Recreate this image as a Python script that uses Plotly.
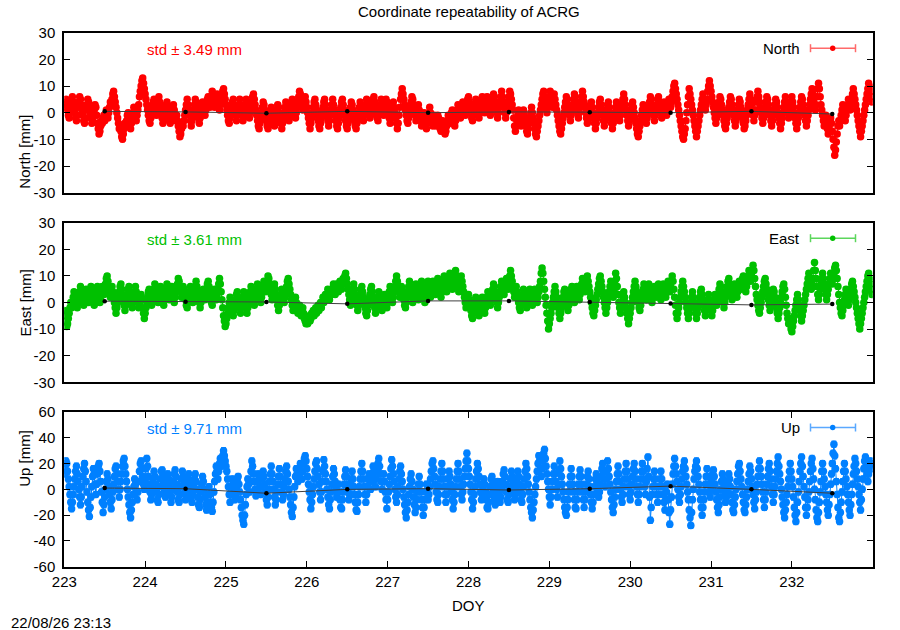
import plotly.graph_objects as go

# ---------------- data (mm) ----------------
START_DOY = 223.0
STEP_DAY = 0.01

north_mm = [
    # 223
    2, 4, 5, 3, 1, -1, -2, 0, 3, 5, 6, 4, 2, 0, -2, -3, -1, 2, 4, 6,
    5, 3, 1, -1, -3, -4, -2, 1, 3, 5, 4, 2, 0, -2, -4, -3, -1, 1, 3, 2,
    -1, -4, -6, -8, -7, -5, -3, -4, -2, -1, -3, -1, 1, 0, -2, 0, 2, 4, 3, 5,
    7, 8, 6, 4, 2, 0, -2, -4, -6, -5, -7, -9, -10, -8, -6, -4, -5, -3, -1, 0,
    -2, -4, -6, -4, -2, 0, 2, 1, -1, -3, -1, 1, 3, 6, 8, 10, 12, 13, 11, 9,
    # 224
    7, 5, 3, 1, -1, -3, -4, -2, 0, 2, 4, 5, 3, 1, -1, 2, 4, 6, 4, 2,
    0, -2, -4, -3, -1, 1, 3, 4, 2, 0, -2, -4, -2, 0, 2, 3, 1, -1, -3, -1,
    -3, -5, -7, -9, -8, -6, -4, -5, -3, -1, 1, 3, 5, 3, 1, -1, -3, -5, -3, -1,
    1, 3, 5, 4, 2, 0, -2, -4, -2, 0, 2, 4, 3, 1, -1, 1, 3, 5, 6, 4,
    2, 4, 6, 8, 6, 4, 2, 3, 5, 7, 5, 3, 1, 3, 5, 7, 8, 9, 7, 5,
    # 225
    3, 1, -1, -3, -4, -2, 0, 2, 4, 5, 3, 1, -1, -3, -1, 1, 3, 5, 3, 1,
    -1, -3, -1, 1, 3, 5, 4, 2, 0, -2, 0, 2, 4, 6, 7, 5, 3, 1, -1, -3,
    -5, -6, -4, -2, 0, 2, 4, 3, 1, -1, -3, -5, -6, -4, -2, 0, 2, 1, -1, -3,
    -5, -3, -1, 1, 3, 2, 0, -2, -4, -6, -4, -2, 0, 2, 4, 3, 1, -1, -3, -1,
    1, 3, 5, 4, 2, 0, -2, 0, 2, 4, 6, 8, 7, 5, 3, 1, 3, 5, 6, 4,
    # 226
    2, 0, -2, -4, -6, -4, -2, 0, 2, 4, 5, 3, 1, -1, -3, -5, -6, -4, -2, 0,
    2, 4, 5, 3, 1, -1, -3, -5, -3, -1, 1, 3, 5, 3, 1, -1, -3, -5, -6, -4,
    -2, 0, 2, 4, 5, 3, 1, -1, -3, -5, -6, -4, -2, 0, 2, 4, 3, 1, -1, -3,
    -5, -6, -4, -2, 0, 2, 4, 2, 0, -2, -3, -1, 1, 3, 5, 4, 2, 0, -2, -1,
    1, 3, 5, 6, 4, 2, 0, -2, -3, -1, 1, 3, 5, 3, 1, -1, 1, 3, 5, 4,
    # 227
    2, 0, -2, -4, -2, 0, 2, 4, 2, 0, -2, -4, -6, -4, -1, 2, 5, 7, 9, 7,
    5, 3, 1, -1, -3, -4, -2, 0, 2, 4, 6, 5, 3, 1, -1, -3, -1, 1, 3, 1,
    -1, -3, -5, -3, -1, 0, -2, -4, -6, -4, -2, 0, 2, 0, -2, -4, -5, -3, -1, -3,
    -5, -3, -1, -2, -4, -6, -7, -5, -3, -4, -6, -8, -7, -5, -3, -1, -2, -4, -2, 0,
    1, -1, -3, -5, -3, -1, 1, 3, 2, 0, -2, 0, 2, 4, 3, 1, -1, 1, 3, 5,
    # 228
    6, 4, 2, 0, -2, -3, -1, 1, 3, 5, 4, 2, 0, -2, 0, 2, 4, 6, 4, 2,
    0, 2, 4, 6, 5, 3, 1, -1, 1, 3, 5, 7, 6, 4, 2, 0, -2, 0, 2, 4,
    6, 8, 6, 4, 2, 0, -2, 0, 2, 4, 6, 8, 7, 5, 3, 1, -2, -5, -7, -5,
    -3, -1, 1, -1, -3, -5, -3, -1, 1, -1, -3, -5, -7, -8, -6, -4, -2, 0, 2, 0,
    -2, -4, -6, -8, -9, -7, -5, -3, -1, 1, 3, 5, 7, 8, 6, 4, 2, 0, 2, 4,
    # 229
    6, 8, 6, 4, 2, 5, 7, 5, 3, 1, -1, -3, -5, -7, -8, -6, -4, -2, 0, 2,
    4, 6, 5, 3, 1, -1, -3, -1, 1, 3, 5, 7, 6, 4, 2, 0, -2, 0, 2, 4,
    6, 8, 6, 4, 2, 0, -2, -4, -3, -1, 1, 3, 4, 2, 0, -2, -4, -6, -4, -2,
    0, 2, 4, 5, 3, 1, -1, -3, -5, -3, -1, 1, 3, 4, 2, 0, -2, -4, -6, -4,
    -2, 0, 2, 4, 3, 1, -1, -3, -1, 1, 3, 5, 7, 5, 3, 1, -1, -3, -5, -3,
    # 230
    -1, 1, 3, 4, 2, 0, -2, -4, -6, -8, -9, -7, -5, -3, -1, 1, 3, 2, 0, -2,
    -4, -2, 0, 2, 4, 6, 5, 3, 1, -1, -3, -1, 1, 3, 5, 6, 4, 2, 0, -2,
    0, 2, 4, 3, 1, -1, 1, 3, 5, 4, 2, 4, 6, 8, 10, 11, 9, 7, 5, 3,
    1, -1, -3, -5, -7, -9, -10, -8, -6, -3, 0, 3, 6, 9, 7, 5, 3, 1, -1, -3,
    -5, -7, -9, -7, -5, -3, -1, 1, 3, 5, 7, 5, 3, 1, 3, 5, 8, 10, 12, 10,
    # 231
    8, 6, 4, 2, 0, -2, -4, -2, 0, 2, 4, 6, 5, 3, 1, -1, -3, -5, -6, -4,
    -2, 0, 2, 4, 6, 5, 3, 1, -1, -3, -5, -3, -1, 1, 3, 5, 4, 2, 0, -2,
    -4, -6, -5, -3, -1, 1, 3, 5, 7, 5, 3, 1, -1, -3, -1, 1, 4, 6, 8, 6,
    4, 2, 0, -2, -4, -2, 0, 2, 4, 6, 5, 3, 1, -1, -3, -5, -3, -1, 1, 3,
    5, 4, 2, 0, -2, -4, -6, -4, -2, 0, 2, 4, 6, 4, 2, 0, -2, 0, 2, 4,
    # 232
    6, 4, 2, 0, -2, -4, -6, -4, -2, 0, 2, 4, 6, 5, 3, 1, -1, -3, -5, -3,
    -1, 1, 3, 5, 7, 9, 7, 5, 3, 1, 3, 6, 9, 11, 9, 6, 3, 1, -1, -3,
    -5, -3, -1, -3, -6, -8, -6, -4, -2, -4, -7, -10, -13, -16, -14, -11, -8, -5, -3, -5,
    -3, -1, 1, 3, 1, -1, -3, -1, 1, 3, 5, 3, 1, 3, 5, 7, 9, 7, 5, 3,
    1, -1, -3, -5, -7, -9, -7, -5, -3, -1, 1, 3, 5, 7, 9, 11, 10, 8, 6, 4,
]

east_mm = [
    # 223
    -3, -5, -7, -9, -8, -6, -4, -2, 0, -2, 0, 2, 4, 3, 1, -1, -2, 0, 2, 4,
    6, 5, 3, 1, -1, 1, 3, 5, 4, 2, 0, 2, 4, 6, 5, 3, 1, -1, 1, 3,
    5, 6, 4, 2, 0, 2, 4, 6, 5, 3, 5, 7, 9, 10, 8, 6, 4, 2, 4, 6,
    4, 2, 0, -2, -4, -2, 0, 2, 4, 6, 7, 5, 3, 1, -1, -3, -1, 1, 3, 5,
    6, 4, 2, 0, -2, 0, 2, 4, 6, 4, 2, 0, -2, -1, 1, 3, 1, -2, -4, -6,
    # 224
    -4, -2, 0, 2, 4, 5, 3, 1, -1, 1, 3, 5, 7, 6, 4, 2, 0, 2, 4, 6,
    5, 3, 1, -1, 1, 3, 5, 7, 5, 3, 1, 3, 5, 6, 4, 2, 0, 2, 4, 6,
    7, 9, 8, 6, 4, 2, 4, 6, 5, 3, 1, -1, -2, 0, 2, 4, 6, 4, 2, 0,
    2, 4, 6, 8, 6, 4, 2, 0, -2, 0, 2, 4, 5, 3, 1, 3, 5, 7, 8, 6,
    4, 2, 0, -1, 1, 3, 5, 3, 1, 3, 5, 7, 9, 7, 4, 1, -2, -5, -7, -9,
    # 225
    -8, -6, -4, -2, 0, 2, 0, -2, -4, -5, -3, -1, 1, 3, 4, 2, 0, -2, -4, -2,
    0, 2, 4, 2, 0, -2, -4, -2, 0, 2, 4, 6, 5, 3, 1, -1, 1, 3, 5, 7,
    6, 4, 2, 0, 2, 4, 6, 8, 6, 4, 6, 8, 10, 9, 7, 5, 3, 1, 3, 5,
    7, 5, 3, 1, -1, -3, -1, 1, 3, 5, 4, 2, 0, 2, 4, 6, 8, 9, 7, 5,
    3, 1, -1, -3, -2, 0, 2, 0, -2, -4, -3, -1, -3, -5, -4, -2, -4, -6, -7, -8,
    # 226
    -6, -8, -7, -5, -7, -6, -4, -5, -3, -5, -4, -2, -4, -3, -1, -3, -2, 0, -2, 0,
    2, 0, 1, 3, 1, 3, 5, 3, 1, 3, 5, 3, 5, 7, 5, 3, 5, 7, 6, 4,
    6, 8, 7, 5, 7, 9, 8, 10, 11, 9, 7, 5, 3, 1, -1, 1, 3, 5, 7, 5,
    3, 1, -1, -3, -1, 1, 3, 5, 6, 4, 2, 0, -2, -4, -5, -3, -1, 1, 3, 5,
    6, 4, 2, 0, -2, -4, -2, 0, 2, 4, 3, 1, -1, -3, -1, 1, 3, 2, 0, -2,
    # 227
    0, 2, 4, 6, 4, 2, 0, 2, 4, 6, 8, 10, 8, 6, 4, 2, 4, 6, 5, 3,
    1, -1, -2, 0, 2, 4, 6, 8, 6, 4, 2, 0, 2, 4, 6, 7, 5, 3, 1, 3,
    5, 7, 8, 6, 4, 2, 0, 2, 4, 6, 8, 6, 4, 2, 4, 6, 8, 7, 5, 3,
    5, 7, 9, 8, 6, 4, 2, 4, 6, 8, 10, 8, 6, 4, 6, 8, 10, 11, 9, 7,
    5, 7, 9, 11, 12, 10, 8, 6, 4, 6, 8, 10, 8, 6, 4, 2, 0, -2, 0, 2,
    # 228
    3, 1, -1, -3, -5, -6, -4, -2, 0, 2, 1, -1, -3, -5, -4, -2, 0, 2, 0, -2,
    -4, -2, 0, 2, 4, 3, 1, -1, 1, 3, 5, 7, 6, 4, 2, 0, -2, 0, 2, 4,
    6, 8, 7, 5, 3, 5, 7, 9, 7, 5, 8, 10, 12, 10, 8, 6, 4, 2, 4, 6,
    4, 2, 0, -2, -3, -1, 1, 3, 5, 4, 2, 0, -2, 0, 2, 4, 5, 3, 1, -1,
    1, 3, 5, 4, 2, 0, 2, 4, 6, 8, 11, 13, 11, 8, 5, 2, -1, -4, -7, -10,
    # 229
    -8, -6, -4, -2, 0, 2, 4, 6, 4, 2, 0, -2, -4, -6, -4, -2, 0, 2, 4, 5,
    3, 1, -1, -3, -1, 1, 3, 5, 6, 4, 2, 0, 2, 4, 6, 5, 3, 1, 3, 5,
    7, 9, 8, 6, 4, 6, 8, 10, 8, 6, 4, 2, 0, -2, -4, -5, -3, -1, 1, 3,
    5, 7, 9, 10, 8, 6, 4, 2, 0, -2, -4, -2, 0, 2, 4, 6, 8, 6, 4, 2,
    5, 8, 11, 9, 6, 3, 0, -2, -4, -2, 0, 2, 4, 2, 0, -2, -4, -6, -8, -6,
    # 230
    -4, -2, 0, 2, 4, 6, 8, 6, 4, 2, 0, -2, -3, -1, 1, 3, 5, 7, 5, 3,
    1, 3, 5, 7, 6, 4, 2, 0, 2, 4, 6, 4, 2, 4, 6, 7, 5, 3, 1, 3,
    5, 7, 6, 4, 2, 4, 6, 8, 6, 4, 6, 8, 10, 8, 5, 2, -1, -4, -6, -4,
    -2, 0, 2, 4, 6, 8, 6, 4, 2, 0, -2, -4, -6, -4, -2, 0, 2, 4, 2, 0,
    -2, -4, -6, -4, -2, 0, 2, 4, 5, 3, 1, -1, -3, -5, -3, -1, 1, 3, 1, -1,
    # 231
    -3, -5, -3, -1, 1, 3, 1, -1, 1, 3, 5, 7, 6, 4, 2, 0, -2, 0, 2, 4,
    6, 8, 9, 7, 5, 3, 1, 3, 5, 7, 6, 4, 2, 4, 6, 8, 7, 5, 7, 9,
    10, 8, 6, 4, 6, 8, 10, 12, 10, 8, 10, 12, 14, 12, 9, 6, 3, 1, -1, -3,
    -4, -2, 0, 2, 4, 6, 8, 9, 7, 5, 3, 1, -1, -3, -1, 1, 3, 5, 4, 2,
    0, -2, -4, -6, -4, -2, 0, 2, 4, 6, 7, 5, 2, -1, -4, -6, -8, -6, -8, -10,
    # 232
    -11, -9, -7, -5, -3, -1, 1, 3, 1, -1, -3, -5, -7, -5, -3, -1, 1, 3, 5, 7,
    9, 11, 9, 7, 5, 7, 9, 12, 15, 12, 9, 6, 3, 1, 3, 5, 7, 9, 11, 9,
    7, 5, 3, 1, 3, 5, 7, 9, 11, 9, 7, 9, 11, 13, 14, 12, 9, 6, 3, 0,
    -2, -4, -5, -3, -1, 1, 3, 5, 3, 1, -1, 1, 3, 5, 7, 8, 6, 4, 2, 0,
    -2, -4, -6, -8, -10, -8, -6, -4, -2, 0, 2, 4, 6, 8, 10, 11, 9, 7, 5, 3,
]

up_mm = [
    # 223
    12, 18, 22, 20, 14, 8, 2, -4, -10, -15, -10, -4, 2, 8, 14, 18, 12, 6, 0, -6,
    -12, -6, 2, 10, 16, 20, 14, 6, -2, -10, -16, -21, -14, -6, 2, 10, 16, 12, 4, -4,
    4, 12, 18, 20, 14, 6, -2, -10, -18, -12, -6, 0, 6, 12, 8, 2, -4, -10, -15, -8,
    -2, 4, 10, 16, 18, 12, 6, 0, -6, 0, 6, 12, 18, 22, 24, 18, 12, 6, 0, -6,
    -12, -18, -22, -16, -10, -4, 2, 8, 4, -2, -8, -2, 6, 14, 20, 22, 16, 10, 4, 0,
    # 224
    8, 16, 24, 18, 10, 4, -2, -8, -4, 2, 8, 14, 10, 4, -2, -8, -10, -4, 2, 8,
    14, 15, 10, 4, -2, -6, 0, 6, 12, 8, 2, -4, -10, -6, 0, 6, 12, 15, 10, 4,
    -2, -8, -10, -4, 2, 8, 14, 10, 4, -2, -8, -4, 2, 8, 12, 6, 0, -6, -10, -4,
    2, 8, 12, 6, 0, -6, -12, -14, -8, -2, 4, 10, 6, 0, -6, -12, -16, -10, -4, 2,
    -4, -10, -14, -17, -10, -2, 6, 12, 18, 14, 8, 14, 20, 24, 18, 22, 26, 30, 26, 22,
    # 225
    18, 14, 8, 2, -4, -10, -4, 2, 8, 4, -2, -8, -4, 2, 8, 10, 4, -2, -8, -14,
    -20, -24, -27, -20, -12, -4, 2, 8, 4, -2, 6, 14, 22, 18, 12, 6, 0, -5, 0, 6,
    12, 8, 2, -4, 2, 8, 14, 10, 4, -2, -8, -12, -6, 0, 6, 12, 18, 12, 6, 0,
    -6, -12, -8, -2, 4, 10, 16, 10, 4, -2, -8, -4, 2, 8, 14, 18, 12, 6, 0, -6,
    -12, -18, -21, -14, -6, 2, 10, 16, 12, 6, 10, 16, 20, 14, 8, 14, 20, 24, 26, 22,
    # 226
    16, 10, 4, -2, -8, -15, -10, -4, 2, 8, 14, 20, 22, 16, 10, 4, -2, -8, -2, 6,
    14, 23, 18, 12, 6, 0, -6, -12, -15, -8, -2, 4, 10, 16, 12, 6, 0, -6, -2, 4,
    -2, -8, -14, -15, -8, -2, 4, 10, 15, 10, 4, -2, -8, -4, 2, 8, 14, 8, 2, -4,
    -10, -16, -17, -10, -4, 2, 8, 14, 20, 14, 8, 2, -4, -10, -4, 2, 8, 12, 6, 0,
    6, 12, 18, 14, 8, 2, 8, 14, 20, 24, 18, 12, 6, 0, 6, 12, 6, -2, -8, -15,
    # 227
    -8, -2, 4, 10, 16, 23, 18, 12, 6, 0, -6, -10, -4, 2, 8, 14, 18, 12, 6, 0,
    -6, -12, -18, -22, -16, -10, -4, 2, 8, 12, 6, 0, -6, -12, -18, -14, -8, -2, 4, 10,
    4, -2, -8, -14, -20, -14, -8, -2, 4, -2, -8, -4, 2, 8, 14, 20, 22, 16, 10, 4,
    -2, -8, -10, -4, 2, 8, 14, 20, 14, 8, 2, -4, -10, -4, 2, 8, 14, 10, 4, -2,
    -8, -15, -10, -4, 2, 8, 14, 20, 14, 8, 2, -4, -8, -2, 4, 10, 16, 22, 28, 22,
    # 228
    16, 10, 4, -2, -8, -15, -10, -4, 2, 8, 14, 20, 16, 10, 4, -2, -8, -4, 2, 8,
    4, -2, -8, -14, -15, -10, -4, 2, 8, 10, 4, -2, -8, -12, -6, 0, 6, 2, -4, -10,
    -6, 0, 6, 12, 15, 10, 4, -2, -8, -10, -4, 2, 8, 14, 10, 4, -2, -8, -4, 2,
    8, 14, 10, 4, -2, -8, -10, -4, 2, 8, 14, 20, 16, 10, 4, -2, -8, -14, -18, -22,
    -16, -10, -4, 2, 8, 14, 20, 26, 22, 16, 10, 16, 22, 28, 31, 24, 18, 12, 6, 0,
    # 229
    -6, -12, -6, 0, 6, 12, 18, 12, 6, 0, -6, 4, 14, 22, 16, 10, 4, -2, -8, -14,
    -18, -20, -14, -8, -2, 4, 10, 16, 10, 4, -2, -8, -14, -15, -8, -2, 4, 10, 15, 10,
    4, -2, -8, -14, -8, -2, 4, 10, 14, 8, 2, -4, -10, -15, -10, -4, 2, 8, 12, 6,
    0, -6, -2, 4, 10, 16, 20, 14, 8, 2, 8, 14, 22, 16, 10, 4, -2, -8, -14, -18,
    -12, -6, 0, 6, 12, 18, 12, 6, 0, -6, -10, -4, 2, 8, 14, 20, 14, 8, 2, -4,
    # 230
    -8, -2, 4, 10, 16, 20, 14, 8, 2, -4, -10, -4, 2, 8, 14, 20, 14, 8, 2, -4,
    6, 16, 25, 10, -6, -24, -14, -4, 2, 8, 14, 8, 2, -4, -10, -4, 2, 8, 14, 8,
    2, -4, -10, -16, -8, -2, 4, -8, -18, -27, -16, -6, 4, 12, 18, 24, 18, 12, 6, 0,
    -6, -10, -4, 2, 8, 14, 18, 22, 16, 10, 4, -2, -8, -16, -22, -28, -18, -8, 0, 8,
    14, 18, 22, 16, 10, 4, -2, -8, -14, -20, -14, -8, -2, 4, 10, 16, 10, 4, -2, -6,
    # 231
    0, 6, 12, 15, 10, 4, -2, -8, -14, -18, -12, -6, 0, 6, 12, 8, 2, -4, -10, -6,
    0, 6, 12, 8, 2, -4, -10, -16, -18, -12, -6, 0, 6, 12, 18, 20, 14, 8, 2, -4,
    -10, -16, -18, -12, -6, 0, 6, 12, 18, 14, 8, 2, -4, -10, -15, -8, -2, 4, 10, 16,
    22, 16, 10, 4, -2, -8, -14, -8, -2, 4, 10, 16, 20, 14, 8, 2, -4, -10, -4, 2,
    8, 14, 20, 25, 18, 12, 6, 0, -6, -12, -18, -22, -16, -10, -4, 2, 8, 14, 20, 14,
    # 232
    8, 2, -6, -14, -20, -25, -18, -10, -2, 6, 14, 20, 25, 18, 10, 2, -6, -14, -20, -14,
    -8, -2, 6, 14, 20, 24, 16, 8, 0, -8, -16, -22, -25, -18, -10, -2, 6, 14, 20, 14,
    8, 2, -4, -10, -16, -20, -12, -4, 4, 12, 20, 28, 35, 26, 16, 6, -4, -14, -22, -25,
    -18, -10, -2, 6, 14, 20, 14, 8, 2, -4, -10, -16, -20, -12, -4, 4, 12, 18, 24, 20,
    14, 8, 2, -4, -10, -16, -8, 0, 8, 16, 22, 25, 18, 12, 6, 12, 18, 22, 20, 16,
]

daily_doy = [223.5, 224.5, 225.5, 226.5, 227.5, 228.5, 229.5, 230.5, 231.5, 232.5]
daily_north = [0.5, 0.3, -0.2, 0.5, 0.0, 0.3, 0.2, 0.0, 0.5, -0.5]
daily_east = [0.5, 0.3, 0.2, -0.5, 0.6, 0.6, 0.2, -0.4, -0.9, -0.6]
daily_up = [1.0, 0.5, -3.0, 0.0, 0.5, -0.5, 0.5, 2.5, 0.0, -3.0]

component_names = ["North", "East", "Up"]
std_values = [3.49, 3.61, 9.71]
x_tick_values = [223, 224, 225, 226, 227, 228, 229, 230, 231, 232]
y_ticks_ne = [-30, -20, -10, 0, 10, 20, 30]
y_ticks_up = [-60, -40, -20, 0, 20, 40, 60]

# ---------------- style ----------------
W, H = 900, 630
FONT = "Liberation Sans, Arial, Helvetica, sans-serif"
FS = 15
colors = ["#ff0000", "#00c000", "#0080ff"]
legend_colors = ["#ff6a6a", "#5cd65c", "#5aa8ff"]
errbar = [0.9, 0.9, 2.4]

X0_PX, X1_PX = 64.3, 872.7
panels_px = [(32.7, 192.7), (222.7, 382.3), (412.0, 566.7)]


def px(x):
    return x / W


def py(y):
    return 1 - y / H


series = [north_mm, east_mm, up_mm]
dailies = [daily_north, daily_east, daily_up]
yticks = [y_ticks_ne, y_ticks_ne, y_ticks_up]

fig = go.Figure()
layout = dict(
    width=W, height=H, autosize=False, paper_bgcolor="white", plot_bgcolor="white",
    margin=dict(l=0, r=0, t=0, b=0, pad=0), showlegend=False,
    font=dict(family=FONT, size=FS, color="black"),
)
shapes = []
annotations = []

for k in range(3):
    sfx = "" if k == 0 else str(k + 1)
    xa, ya = "x" + sfx, "y" + sfx
    doy = [START_DOY + STEP_DAY * i for i in range(len(series[k]))]
    fig.add_trace(go.Scatter(
        x=doy, y=series[k], xaxis=xa, yaxis=ya, mode="lines+markers",
        line=dict(color=colors[k], width=1),
        marker=dict(symbol="circle", size=7.5, color=colors[k]),
        error_y=dict(type="constant", value=errbar[k], width=2.5, thickness=1, color=colors[k]),
        name=component_names[k], hoverinfo="skip",
    ))
    fig.add_trace(go.Scatter(
        x=daily_doy, y=dailies[k], xaxis=xa, yaxis=ya, mode="lines+markers",
        line=dict(color="#404040", width=1),
        marker=dict(symbol="circle", size=4.5, color="black"),
        name="daily", hoverinfo="skip",
    ))
    top, bot = panels_px[k]
    bottom_panel = (k == 2)
    layout["xaxis" + sfx] = dict(
        domain=[px(X0_PX), px(X1_PX)], range=[223, 233], anchor=ya, automargin=False,
        tickvals=x_tick_values, ticktext=[str(v) for v in x_tick_values],
        showticklabels=bottom_panel, ticks="inside" if bottom_panel else "",
        ticklen=6, tickwidth=1, tickcolor="black",
        showline=True, linecolor="black", linewidth=2,
        mirror="ticks" if bottom_panel else True,
        showgrid=False, zeroline=False,
        tickfont=dict(family=FONT, size=FS, color="black"),
    )
    layout["yaxis" + sfx] = dict(
        domain=[py(bot), py(top)], range=[yticks[k][0], yticks[k][-1]], anchor=xa,
        automargin=False,
        tickvals=yticks[k], ticktext=[str(v) for v in yticks[k]],
        ticks="inside", ticklen=6, tickwidth=1, tickcolor="black",
        showline=True, linecolor="black", linewidth=2, mirror="ticks",
        showgrid=False, zeroline=False, ticklabelstandoff=4,
        tickfont=dict(family=FONT, size=FS, color="black"),
    )
    annotations.append(dict(
        text=f"{component_names[k]} [mm]", x=px(14.5), y=py((top + bot) / 2),
        xref="paper", yref="paper", textangle=-90, showarrow=False,
        font=dict(family=FONT, size=FS, color="black"),
    ))
    annotations.append(dict(
        text=f"std \u00b1 {std_values[k]:.2f} mm", x=px(145), y=py(top + 16.5),
        xref="paper", yref="paper", xanchor="left", yanchor="middle", showarrow=False,
        font=dict(family=FONT, size=FS, color=colors[k]),
    ))
    ly = top + 15.5
    annotations.append(dict(
        text=component_names[k], x=px(802), y=py(ly), xref="paper", yref="paper",
        xanchor="right", yanchor="middle", showarrow=False,
        font=dict(family=FONT, size=FS, color="black"),
    ))
    lc = legend_colors[k]
    shapes.append(dict(type="line", xref="paper", yref="paper",
                       x0=px(810.5), x1=px(855.5), y0=py(ly), y1=py(ly),
                       line=dict(color=lc, width=1.5)))
    for cx in (810.5, 855.5):
        shapes.append(dict(type="line", xref="paper", yref="paper",
                           x0=px(cx), x1=px(cx), y0=py(ly - 4), y1=py(ly + 4),
                           line=dict(color=lc, width=1.5)))
    shapes.append(dict(type="circle", xref="paper", yref="paper",
                       xsizemode="pixel", ysizemode="pixel",
                       xanchor=px(832.7), yanchor=py(ly),
                       x0=-2.7, x1=2.7, y0=-2.7, y1=2.7,
                       fillcolor=colors[k], line=dict(color=colors[k], width=0)))

annotations.append(dict(
    text="Coordinate repeatability of ACRG", x=px(468.8), y=py(11.4),
    xref="paper", yref="paper", showarrow=False, yanchor="middle",
    font=dict(family=FONT, size=FS, color="black"),
))
annotations.append(dict(
    text="DOY", x=px(468), y=py(605), xref="paper", yref="paper",
    showarrow=False, yanchor="middle",
    font=dict(family=FONT, size=FS, color="black"),
))
annotations.append(dict(
    text="22/08/26 23:13", x=px(9), y=py(622), xref="paper", yref="paper",
    showarrow=False, xanchor="left", yanchor="middle",
    font=dict(family=FONT, size=FS, color="black"),
))

layout["shapes"] = shapes
layout["annotations"] = annotations
layout["hovermode"] = False
fig.update_layout(**layout)
# remove the browser's default 8 px body margin so the figure fills the window
fig.write_html(
    "out.html",
    config={"displayModeBar": False, "staticPlot": True},
    post_script="document.body.style.margin='0px';document.body.style.overflow='hidden';",
)
